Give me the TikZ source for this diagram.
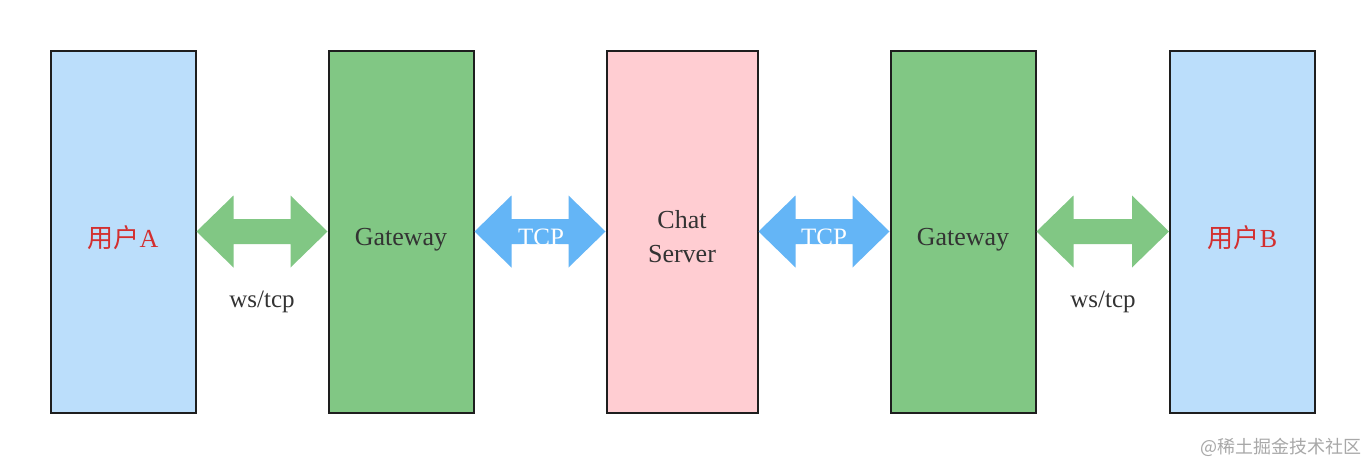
\documentclass[tikz,border=0pt]{standalone}
\usepackage{fontspec}
\setmainfont{Liberation Serif}
\newfontfamily\cjk{Noto Sans CJK SC}
\usetikzlibrary{calc}
\definecolor{userblue}{HTML}{BBDEFB}
\definecolor{gwgreen}{HTML}{81C784}
\definecolor{srvpink}{HTML}{FFCDD2}
\definecolor{arrblue}{HTML}{64B5F6}
\definecolor{usertext}{HTML}{D32F2F}
\definecolor{bodytext}{HTML}{333333}
\definecolor{bordercol}{HTML}{1E1E1E}
\definecolor{wmgray}{HTML}{A8A8A8}
\tikzset{
  box/.style={draw=bordercol, line width=2pt, minimum width=145pt, minimum height=362pt, inner sep=0pt},
  btext/.style={font=\fontsize{26}{34}\selectfont, text=bodytext, align=center, inner sep=0pt},
  lbl/.style={font=\fontsize{25}{30}\selectfont, text=bodytext, inner sep=0pt},
}
\newcommand{\fatarrow}[3]{%
  \fill[#3] (#1.east) -- ([xshift=37pt,yshift=36pt]#1.east) -- ([xshift=37pt,yshift=12.5pt]#1.east)
    -- ([xshift=-37pt,yshift=12.5pt]#2.west) -- ([xshift=-37pt,yshift=36pt]#2.west) -- (#2.west)
    -- ([xshift=-37pt,yshift=-36pt]#2.west) -- ([xshift=-37pt,yshift=-12.5pt]#2.west)
    -- ([xshift=37pt,yshift=-12.5pt]#1.east) -- ([xshift=37pt,yshift=-36pt]#1.east) -- cycle;}
\begin{document}
\begin{tikzpicture}[x=1pt,y=-1pt]
\useasboundingbox[fill=white] (0,0) rectangle (1366,464);
\node[box, fill=userblue, label={[btext, text=usertext, yshift=-6pt]center:{\cjk 用户}A}] (ua) at (123,231.5) {};
\node[box, fill=gwgreen, label={[btext, yshift=-8pt]center:Gateway}] (g1) at (401,231.5) {};
\node[box, fill=srvpink, minimum width=151pt, label={[btext, yshift=-5pt]center:Chat\\Server}] (cs) at (682,231.5) {};
\node[box, fill=gwgreen, label={[btext, yshift=-8pt]center:Gateway}] (g2) at (963,231.5) {};
\node[box, fill=userblue, label={[btext, text=usertext, yshift=-6pt]center:{\cjk 用户}B}] (ub) at (1242.5,231.5) {};
\fatarrow{ua}{g1}{gwgreen}
\fatarrow{g1}{cs}{arrblue}
\fatarrow{cs}{g2}{arrblue}
\fatarrow{g2}{ub}{gwgreen}
\node[lbl] (l1) at (262,302) {ws/tcp};
\node[lbl] (l4) at (1103,302) {ws/tcp};
\node[lbl, text=white] (t1) at (541,237) {TCP};
\node[lbl, text=white] (t2) at (824,237) {TCP};
\node[font=\cjk\fontsize{18}{20}\selectfont, text=wmgray, inner sep=0pt] (wm) at (1281,447) {@稀土掘金技术社区};
\end{tikzpicture}
\end{document}
